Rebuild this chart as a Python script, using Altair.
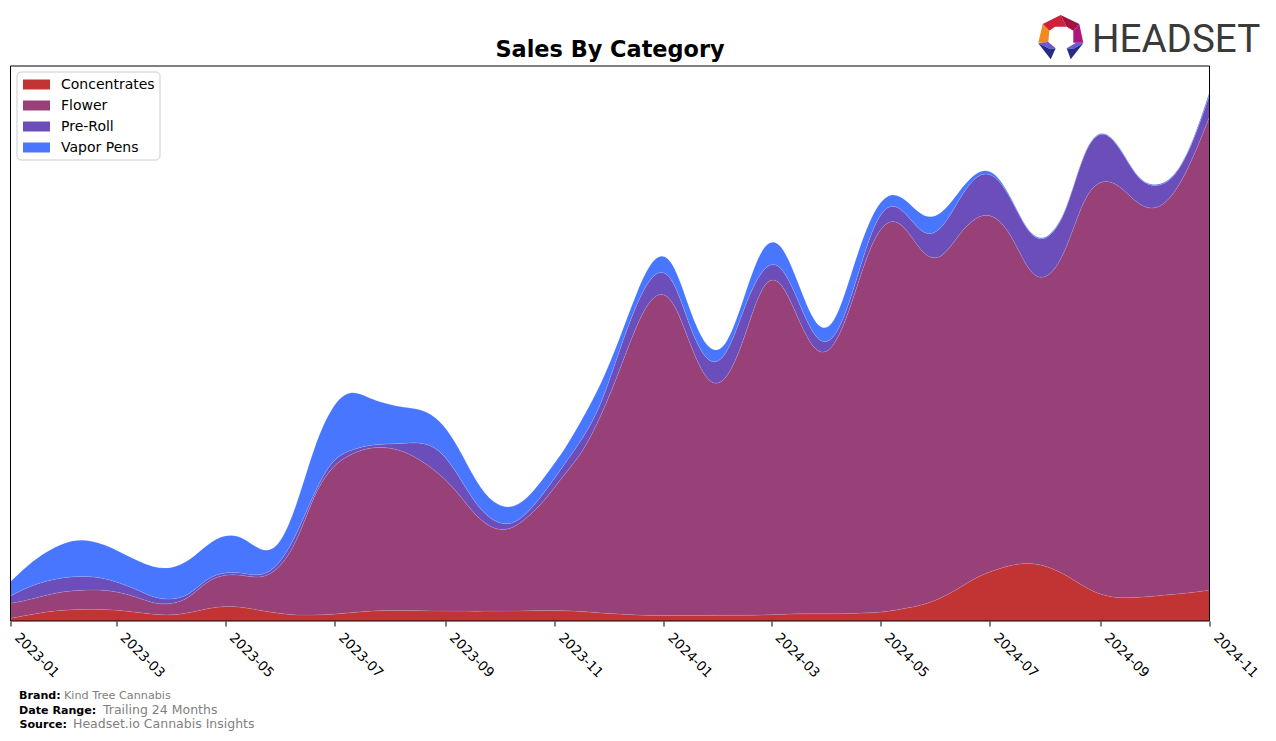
import altair as alt
import pandas as pd

# Cumulative heights of each band's upper edge, one value every 10 days
concentrates_top = [2.7,6,9.3,11,11.7,11.7,11,8.7,6.7,5.6,8,12.7,15,14,10.3,7.5,5.8,6,6.7,8.3,
    10,10.5,10.5,10.3,10,10,9.8,10,10,10.3,10.5,10.3,9.5,8,7,6,5.5,5.5,5.5,5.5,
    5.7,5.8,6,6.5,7.3,7.3,7.2,7.5,8,9.3,12.7,16,22.7,32.7,44.3,51,56.5,58.5,54.5,46,
    34,25.5,22.8,23.5,25,26.7,28.3,31]
flower_top = [17.7,21,26,29.7,31,31.3,29.3,24.3,17.3,16.5,22.5,40.7,47,46,42,51.5,78,129,155.5,167,
    173.5,174,170,160,147,128.7,104.5,91,91,105,123.5,148,169,205,248.5,298,330,326,274.5,234.5,
    238,281,340.5,345,302.5,265,270,316,375,404,396,364.5,360,387,406,407,385,344,341,369.5,
    426,443,436,416,410,425,459,504.3]
preroll_top = [25,34.3,40.3,43.7,45,43.7,39,32,23,21,25.5,43.5,49,48.3,44,55,86.5,130,162.7,171,
    176,177,177.7,179,172,147,116,98.7,95,109.5,132.5,158,183,215,269.7,319,352,348,290,254.5,
    261.5,314.5,354.5,361,321.5,278,277,323.5,387,420.5,410,384,389,422,448,448.5,420,382,380,407,
    473,493.5,474,440,433,441,474,526]
vapor_top = [39.3,56.6,69.3,78.5,82,78,70.3,61,53.3,52,60,77,87,84.5,68.5,72,115,177,217,232,
    223,217,213.3,212,201.5,175.5,139,116.5,111.5,124,148,172,203.5,236.5,280.3,330,368,365,307,267.5,
    271,324,378,383,339.3,291,291,349,403,430,423,402,405,429.6,451,451.5,421,383,381,408,
    474,494,475,440.5,434,442,475,529]

categories = ["Concentrates", "Flower", "Pre-Roll", "Vapor Pens"]
colors = ["#C23333", "#974178", "#6C4EBB", "#4876FF"]
dates = pd.date_range("2023-01-01", periods=68, freq="10D").strftime("%Y-%m-%dT00:00:00").tolist()

rows = []
tops = [concentrates_top, flower_top, preroll_top, vapor_top]
for i, (cat, top) in enumerate(zip(categories, tops)):
    below = tops[i - 1] if i else [0] * len(top)
    for d, t, b in zip(dates, top, below):
        rows.append({"date": d, "category": cat, "sales": round(t - b, 2), "order": i})
df = pd.DataFrame(rows)

W, H = 1199, 555
X0, Y0 = 10.5, 66
one = alt.Data(values=[{"a": 1}])


def dt(y, m):
    return alt.DateTime(year=y, month=m, date=1)


ticks = [dt(2023, m) for m in (1, 3, 5, 7, 9, 11)] + [dt(2024, m) for m in (1, 3, 5, 7, 9, 11)]

area = alt.Chart(df).mark_area(
    interpolate="basis", stroke="white", strokeOpacity=0.15, strokeWidth=0.7, clip=True
).encode(
    x=alt.X("date:T", title=None, scale=alt.Scale(domain=[dt(2023, 1), dt(2024, 11)]),
            axis=alt.Axis(values=ticks, format="%Y-%m", labelAngle=45, labelAlign="left",
                          labelBaseline="alphabetic", labelFont="DejaVu Sans", labelFontSize=13.5,
                          labelColor="black", labelOverlap=False, labelPadding=12, labelOffset=3,
                          labelFlush=False, tickColor="black", tickSize=5, tickWidth=1,
                          domain=False, grid=False)),
    y=alt.Y("sales:Q", stack="zero", title=None, axis=None, scale=alt.Scale(domain=[0, H], nice=False)),
    color=alt.Color("category:N", scale=alt.Scale(domain=categories, range=colors),
                    legend=alt.Legend(title=None, orient="none", legendX=6.5, legendY=-1,
                                      padding=6, symbolType="M-1,-0.37H1V0.37H-1Z", symbolSize=729,
                                      symbolOpacity=1, symbolStrokeWidth=0, labelFont="DejaVu Sans",
                                      labelFontSize=14, labelColor="black", labelOffset=11,
                                      rowPadding=0, labelLimit=200)),
    order=alt.Order("order:Q"),
)


def frame(x1, x2, y1, y2):
    return alt.Chart(one).mark_rule(color="black", strokeWidth=1).encode(
        x=alt.value(x1), x2=alt.value(x2), y=alt.value(y1), y2=alt.value(y2))


frames = [frame(0, 0, 0, H), frame(W, W, 0, H), frame(0, W, 0, 0), frame(0, W, H, H)]

legend_box = alt.Chart(one).mark_rect(fill="white", stroke="#CCCCCC", strokeWidth=1, cornerRadius=4).encode(
    x=alt.value(6.5), x2=alt.value(149.5), y=alt.value(6), y2=alt.value(94))


def label(text, px, py, size, color, bold=False, font="DejaVu Sans", align="left"):
    return alt.Chart(one).mark_text(
        text=text, align=align, baseline="alphabetic", font=font, fontSize=size, color=color,
        fontWeight="bold" if bold else "normal",
    ).encode(x=alt.value(px - X0), y=alt.value(py - Y0))


footer = [
    label("Sales By Category", 610, 57, 22.4, "black", True, align="center"),
    label("Brand:", 19, 699, 11.1, "black", True),
    label("Kind Tree Cannabis", 64, 699, 11.2, "#808080"),
    label("Date Range:", 19, 714, 11.1, "black", True),
    label("Trailing 24 Months", 103, 714, 12.5, "#808080"),
    label("Source:", 19.5, 728, 11.1, "black", True),
    label("Headset.io Cannabis Insights", 73, 728, 12.5, "#808080"),
]

LOGO_X, LOGO_Y = 1060, 36
logo_shapes = [
    ("M-17.3,-12L0.7,-21L6.7,-9.3L-5,-9.3L-10.7,-5.3Z", "#D0213A"),
    ("M0.7,-21L19.3,-12L13.3,-5.3L6.7,-9.3Z", "#A01240"),
    ("M-17.3,-12L-10.7,-5.3L-11.7,6.7L-21.7,6.7Z", "#F28A1E"),
    ("M19.3,-12L13.3,-5.3L13.3,6.7L23.3,6.7Z", "#B0157A"),
    ("M-21.7,7.3L-11.7,6L-4.3,12.3L-10,13Z", "#6B5BD0"),
    ("M-21.7,7.3L-10,13L-4.3,12.3L-9.3,23.3Z", "#252C86"),
    ("M23.3,7.3L17.3,6L6.7,12.3L13,13Z", "#6B5BD0"),
    ("M23.3,7.3L13,13L6.7,12.3L10.7,23.3Z", "#252C86"),
]
logo = [
    alt.Chart(one).mark_point(shape=p, filled=True, fill=c, opacity=1, strokeWidth=0, size=4).encode(
        x=alt.value(LOGO_X - X0), y=alt.value(LOGO_Y - Y0))
    for p, c in logo_shapes
]
logo.append(label("HEADSET", 1092, 52, 38.6, "#3A3A3A", font="Roboto"))

chart = alt.layer(area, *frames, legend_box, *footer, *logo).properties(
    width=W, height=H,
    padding={"left": 2.5, "top": 58, "right": 52, "bottom": 110},
    autosize=alt.AutoSizeParams(type="none"),
).configure_view(stroke=None)

chart.save("out.html", embed_options={"renderer": "svg", "actions": False})
